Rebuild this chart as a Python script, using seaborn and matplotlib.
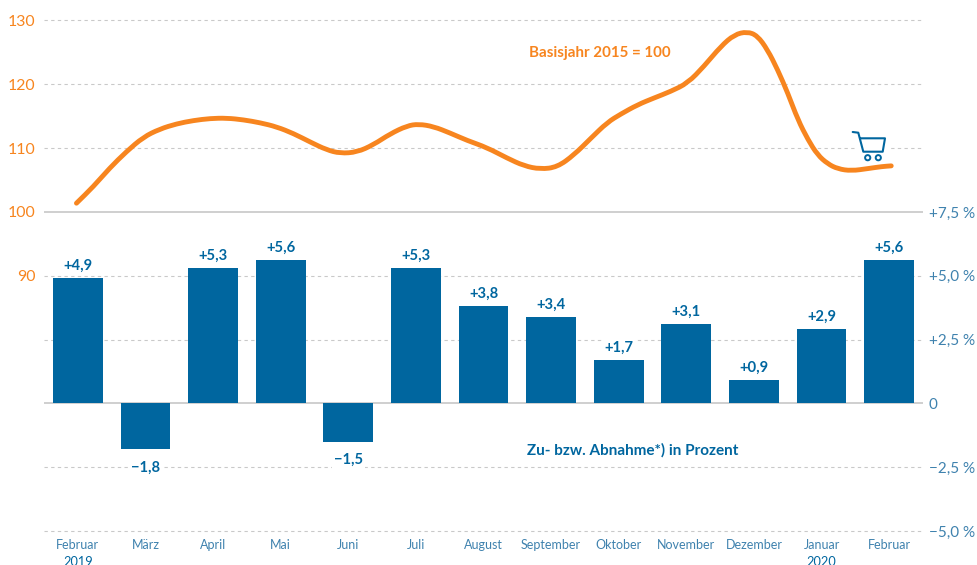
import numpy as np
import pandas as pd
import matplotlib
matplotlib.use("Agg")
import matplotlib.pyplot as plt
from matplotlib.lines import Line2D
from matplotlib.patches import Circle, Rectangle, PathPatch
from matplotlib.path import Path
from matplotlib.transforms import IdentityTransform
import seaborn as sns

months = ["Februar", "März", "April", "Mai", "Juni", "Juli", "August", "September",
          "Oktober", "November", "Dezember", "Januar", "Februar"]
change = [4.9, -1.8, 5.3, 5.6, -1.5, 5.3, 3.8, 3.4, 1.7, 3.1, 0.9, 2.9, 5.6]
change_labels = ["+4,9", "−1,8", "+5,3", "+5,6", "−1,5", "+5,3", "+3,8", "+3,4",
                 "+1,7", "+3,1", "+0,9", "+2,9", "+5,6"]

# index curve, position in months from Feb 2019
index_pos = [-0.02, 0.23, 0.47, 0.72, 0.97, 1.21, 1.46, 1.71, 1.96, 2.20, 2.45, 2.70,
             2.94, 3.19, 3.44, 3.68, 3.88, 4.13, 4.37, 4.62, 4.87, 5.04, 5.26, 5.51,
             5.76, 6.05, 6.35, 6.60, 6.84, 7.09, 7.34, 7.59, 7.83, 8.03, 8.28, 8.52,
             8.77, 9.02, 9.26, 9.51, 9.71, 9.90, 10.05, 10.20, 10.35, 10.50, 10.65,
             10.80, 10.94, 11.09, 11.24, 11.44, 11.69, 11.89, 12.03]
index_val = [101.37, 103.97, 106.86, 109.47, 111.73, 112.98, 113.81, 114.33, 114.65,
             114.71, 114.44, 113.97, 113.34, 112.29, 110.94, 109.73, 109.18, 109.37,
             110.52, 112.24, 113.5, 113.77, 113.39, 112.35, 111.19, 110.09, 108.43,
             107.22, 106.7, 107.02, 108.95, 111.57, 114.02, 115.34, 116.8, 117.85,
             118.89, 120.2, 122.81, 125.95, 127.79, 128.26, 127.63, 125.43, 122.29,
             118.63, 114.44, 111.3, 108.95, 107.54, 106.75, 106.44, 106.8, 107.11, 107.22]

pct_ticks = [-5, -2.5, 0, 2.5, 5, 7.5]
pct_labels = ["−5,0 %", "−2,5 %", "0", "+2,5 %", "+5,0 %", "+7,5 %"]
index_ticks = [90, 100, 110, 120, 130]
grid_levels = [-5, -2.5, 2.5, 5, 10, 12.5, 15]

BLUE = "#00669f"
TICKBLUE = "#3f82ae"
ORANGE = "#f7851f"
GRID = "#c9c9c9"

sns.set_theme(style="white")
plt.rcParams["font.family"] = ["Lato", "DejaVu Sans"]

W, H = 978, 565
fig = plt.figure(figsize=(W / 100, H / 100), dpi=100)
ax = fig.add_axes([44 / W, (H - 531) / H, 879 / W, 510.5 / H])

for lvl in grid_levels:
    ax.axhline(lvl, color=GRID, lw=0.8, dashes=(3, 3), zorder=0, clip_on=False)
for lvl in [0, 7.5]:
    ax.axhline(lvl, color="#cfcfcf", lw=1.4, zorder=0)

df = pd.DataFrame({"pos": np.arange(len(months)), "change": change})
sns.barplot(data=df, x="pos", y="change", native_scale=True, width=0.735,
            color=BLUE, saturation=1, linewidth=0, ax=ax, zorder=2)

ax.set_xlim(-0.5, 12.5)
ax.set_ylim(-5, 15)
ax.set_xlabel("")
ax.set_ylabel("")
ax.set_xticks(df["pos"])
ax.set_xticklabels(months)
sns.despine(ax=ax, left=True, right=True, top=True, bottom=True)

for x, v, lab in zip(df["pos"], change, change_labels):
    off = 8.8 if v > 0 else -13
    ax.annotate(lab, (x, v), xytext=(0, off), textcoords="offset points", ha="center",
                va="center", color=BLUE, fontsize=10.6, fontweight="bold", zorder=4,
                bbox=dict(fc="white", ec="none", pad=1.5))

# years under the first and the last but one month
for x, yr in [(0, "2019"), (11, "2020")]:
    ax.annotate(yr, (x, -5), xytext=(0, -22), textcoords="offset points", ha="center",
                va="center", color=BLUE, fontsize=9.2, annotation_clip=False)

ax.text(8.77, 13.72, "Basisjahr 2015 = 100", color=ORANGE, fontsize=10.9,
        fontweight="bold", ha="right", va="center")
ax.text(8.2, -1.85, "Zu- bzw. Abnahme*) in Prozent", color=BLUE, fontsize=11,
        fontweight="bold", ha="center", va="center")

# index line on its own scale, 10 points = 2.5 %
ax2 = ax.twinx()
sns.lineplot(x=index_pos, y=index_val, color=ORANGE, lw=3.5, sort=False, estimator=None,
             ax=ax2)
ax2.set_ylim(50, 130)
ax2.set_yticks(index_ticks)
ax2.set_yticklabels([str(t) for t in index_ticks])
ax2.yaxis.tick_left()
ax2.tick_params(axis="y", length=0, pad=6, labelsize=11.4, labelcolor=ORANGE)
ax2.set_ylabel("")
ax2.patch.set_visible(False)
sns.despine(ax=ax2, left=True, right=True, top=True, bottom=True)

# round the corners of the read points, the curve in the original is smooth
line = ax2.lines[0]
pts = line.get_xydata()
mids = (pts[:-1] + pts[1:]) / 2
verts = [pts[0], mids[0]]
codes = [Path.MOVETO, Path.LINETO]
for p, m in zip(pts[1:-1], mids[1:]):
    verts += [p, m]
    codes += [Path.CURVE3, Path.CURVE3]
verts.append(pts[-1])
codes.append(Path.LINETO)
ax2.add_patch(PathPatch(Path(verts, codes), fill=False, ec=ORANGE, lw=3.5,
                        capstyle="round", joinstyle="round", zorder=5))
line.set_visible(False)

# twinx moved these to the left, so set the right side last
ax.yaxis.tick_right()
ax.set_yticks(pct_ticks)
ax.set_yticklabels(pct_labels)
ax.tick_params(axis="x", length=0, pad=6, labelsize=9, labelcolor=TICKBLUE)
ax.tick_params(axis="y", length=0, pad=4, labelsize=11, labelcolor=TICKBLUE)
for lab in ax.get_yticklabels():
    lab.set_ha("left")


# cart icon in pixel coordinates
def px(x, y):
    return x / W, (H - y) / H


fig.add_artist(Rectangle(px(857, 152), 32 / W, 10 / H, fc="white", ec="none",
                         transform=fig.transFigure, zorder=6))
cart_x = [852.7, 858.3, 863.3, 882.7, 885, 860.5]
cart_y = [132, 132.7, 151.7, 151.7, 138.3, 138.3]
fx, fy = zip(*[px(a, b) for a, b in zip(cart_x, cart_y)])
fig.add_artist(Line2D(fx, fy, color=BLUE, lw=1.5, transform=fig.transFigure, zorder=7,
                      solid_joinstyle="round"))
for wx in [867.7, 878.3]:
    fig.add_artist(Circle((wx, H - 157.7), 2.6, fc="white", ec=BLUE, lw=1.4,
                          transform=IdentityTransform(), zorder=7))

fig.savefig("out.png", dpi=100)
